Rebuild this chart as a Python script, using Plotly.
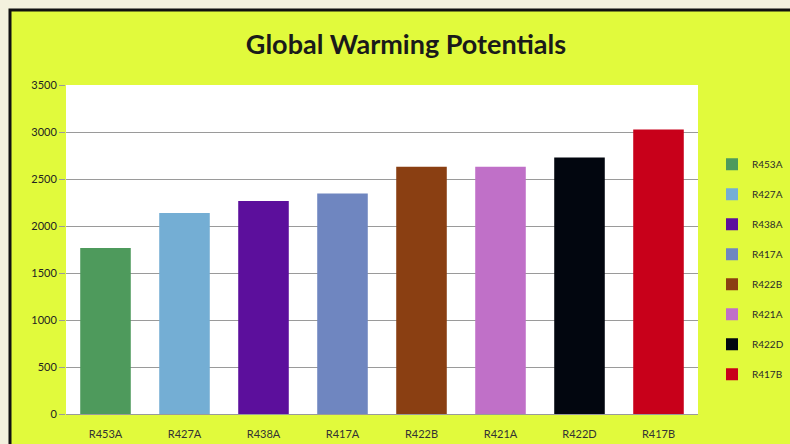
import plotly.graph_objects as go

categories = ["R453A", "R427A", "R438A", "R417A", "R422B", "R421A", "R422D", "R417B"]
gwp_values = [1765, 2138, 2265, 2346, 2630, 2631, 2729, 3027]
bar_colors = ["#4e9a5c", "#74aed4", "#5c0f9c", "#6f86c0", "#8a3f12", "#c070c8", "#02060f", "#c8001a"]
y_ticks = [0, 500, 1000, 1500, 2000, 2500, 3000, 3500]

fig = go.Figure()
for i, (cat, val, col) in enumerate(zip(categories, gwp_values, bar_colors)):
    fig.add_trace(go.Bar(
        x=[cat], y=[val], name=cat, marker=dict(color=col, line=dict(width=0)),
        width=0.64, legendgroup=f"g{i}",
    ))

left = 66
plot_w = 790.0 - left
fig.update_layout(
    width=790, height=444,
    margin=dict(l=left, r=0, t=85, b=30),
    paper_bgcolor="#f3f1de",
    plot_bgcolor="rgba(0,0,0,0)",
    barmode="overlay",
    title=dict(text="<b>Global Warming Potentials</b>", x=(406 - left) / plot_w, xref="paper",
               xanchor="center", y=1 - 45 / 444, yanchor="middle",
               font=dict(family="Lato", size=27, color="#1a1a1a")),
    font=dict(family="Lato", size=11, color="#222222"),
    showlegend=True,
    legend=dict(x=(712 - left) / plot_w, xanchor="left", y=0.44, yanchor="middle",
                bgcolor="rgba(0,0,0,0)", font=dict(size=10, color="#2a2a2a"),
                tracegroupgap=11, itemwidth=30),
    shapes=[
        dict(type="rect", xref="paper", yref="paper", x0=(10 - left) / plot_w, x1=1.2,
             y0=-0.3, y1=(414 - 10) / 329,
             fillcolor="#e1fa3c", line=dict(color="#111111", width=3), layer="below"),
        dict(type="rect", xref="x domain", yref="paper", x0=0, x1=1, y0=0, y1=1,
             fillcolor="#ffffff", line=dict(width=0), layer="below"),
    ],
)
fig.update_yaxes(range=[0, 3500], tickvals=y_ticks, showgrid=True, gridcolor="#9a9a9a",
                 gridwidth=1, zeroline=False, ticks="outside", ticklen=6, tickcolor="#9a9a9a",
                 showline=False, tickfont=dict(size=11, color="#222222"))
fig.update_xaxes(domain=[0, (698 - left) / plot_w], showline=True, linecolor="#9a9a9a", ticks="",
                 ticklabelstandoff=10, tickfont=dict(size=11, color="#333333"))

fig.write_html("out.html", config={"displayModeBar": False},
               post_script="document.body.style.margin='0';document.body.style.overflow='hidden';document.body.style.background='#f3f1de';")
